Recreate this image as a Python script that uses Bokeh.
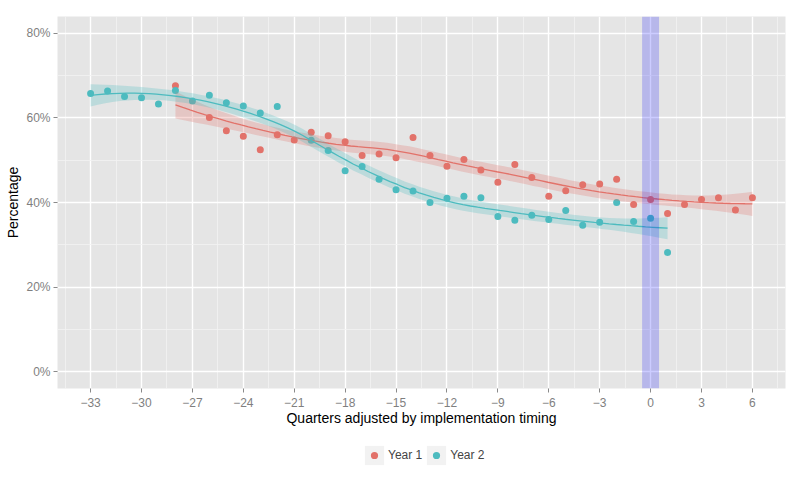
import numpy as np
from bokeh.plotting import figure
from bokeh.layouts import column
from bokeh.models import (Range1d, FixedTicker, Legend, LegendItem, BoxAnnotation)
from bokeh.embed import file_html
from bokeh.resources import INLINE

# ---------------- data ----------------
quarters_year1 = [-28, -26, -25, -24, -23, -22, -21, -20, -19, -18, -17, -16, -15,
                  -14, -13, -12, -11, -10, -9, -8, -7, -6, -5, -4, -3, -2, -1,
                  0, 1, 2, 3, 4, 5, 6]
pct_year1 = [67.6, 60.1, 57.0, 55.7, 52.5, 56.0, 54.8, 56.6, 55.8, 54.4, 51.1, 51.5, 50.6,
             55.4, 51.1, 48.6, 50.2, 47.7, 44.8, 49.0, 45.9, 41.5, 42.8, 44.2, 44.4, 45.5, 39.5,
             40.7, 37.4, 39.5, 40.7, 41.1, 38.2, 41.1]

quarters_year2 = [-33, -32, -31, -30, -29, -28, -27, -26, -25, -24, -23, -22,
                  -20, -19, -18, -17, -16, -15, -14, -13, -12, -11, -10, -9, -8,
                  -7, -6, -5, -4, -3, -2, -1, 0, 1]
pct_year2 = [65.8, 66.4, 65.1, 64.8, 63.3, 66.5, 64.0, 65.4, 63.6, 62.8, 61.2, 62.7,
             54.7, 52.3, 47.5, 48.5, 45.5, 43.0, 42.7, 40.0, 41.0, 41.5, 41.1, 36.7, 35.8,
             37.0, 36.0, 38.1, 34.6, 35.3, 40.0, 35.5, 36.3, 28.2]

series_labels = ["Year 1", "Year 2"]
x_ticks = [-33, -30, -27, -24, -21, -18, -15, -12, -9, -6, -3, 0, 3, 6]
x_tick_labels = ["\u221233", "\u221230", "\u221227", "\u221224", "\u221221", "\u221218",
                 "\u221215", "\u221212", "\u22129", "\u22126", "\u22123", "0", "3", "6"]
y_ticks = [0, 20, 40, 60, 80]
y_tick_labels = ["0%", "20%", "40%", "60%", "80%"]
implementation_quarter = 0

RED = "#E2726A"
CYAN = "#4DBBBF"
KEY_BG = "#F2F2F2"
FONT = "Liberation Sans"


# ---------------- loess smoother (as geom_smooth does) ----------------
def loess(x, y, span=0.75, n_out=80):
    x = np.asarray(x, float)
    y = np.asarray(y, float)
    n = len(x)
    q = int(np.floor(n * span))

    def op_row(x0):
        d = np.abs(x - x0)
        h = np.sort(d)[q - 1]
        w = np.clip(1 - (d / h) ** 3, 0, None) ** 3
        X = np.column_stack([np.ones(n), x - x0, (x - x0) ** 2])
        XtW = X.T * w
        return np.linalg.solve(XtW @ X, XtW)[0]

    L = np.array([op_row(v) for v in x])
    res = y - L @ y
    IL = np.eye(n) - L
    M = IL.T @ IL
    d1 = np.trace(M)
    d2 = np.trace(M @ M)
    sigma = np.sqrt(np.sum(res ** 2) / d1)
    df = d1 ** 2 / d2
    z = 1.959964
    t = z + (z ** 3 + z) / (4 * df) + (5 * z ** 5 + 16 * z ** 3 + 3 * z) / (96 * df ** 2)
    xs = np.linspace(x.min(), x.max(), n_out)
    rows = np.array([op_row(v) for v in xs])
    fit = rows @ y
    se = sigma * np.sqrt(np.sum(rows ** 2, axis=1))
    return xs, fit, fit - t * se, fit + t * se


p = figure(width=790, height=437, output_backend="svg", toolbar_location=None,
           x_range=Range1d(-34.95, 7.95), y_range=Range1d(-4, 84),
           min_border_left=57, min_border_right=5, min_border_top=16, min_border_bottom=49)

p.background_fill_color = "#E5E5E5"
p.border_fill_color = "white"
p.outline_line_color = None

# grid
for g in (p.xgrid, p.ygrid):
    g.grid_line_color = "white"
    g.grid_line_width = 1.4
    g.minor_grid_line_color = KEY_BG
    g.minor_grid_line_width = 0.8

x_minor = [t + 1.5 for t in [x_ticks[0] - 3] + x_ticks]
y_minor = [t + 10 for t in y_ticks]
p.xaxis.ticker = FixedTicker(ticks=x_ticks, minor_ticks=x_minor)
p.yaxis.ticker = FixedTicker(ticks=y_ticks, minor_ticks=y_minor)
p.xgrid.ticker = p.xaxis.ticker
p.ygrid.ticker = p.yaxis.ticker
p.xaxis.major_label_overrides = dict(zip(x_ticks, x_tick_labels))
p.yaxis.major_label_overrides = dict(zip(y_ticks, y_tick_labels))

for ax in (p.xaxis, p.yaxis):
    ax.axis_line_color = None
    ax.major_tick_line_color = "#8A8A8A"
    ax.major_tick_in = 0
    ax.major_tick_out = 4
    ax.minor_tick_line_color = None
    ax.major_label_text_color = "#7F7F7F"
    ax.major_label_text_font = FONT
    ax.major_label_text_font_size = "12px"
    ax.axis_label_text_font = FONT
    ax.axis_label_text_font_size = "14px"
    ax.axis_label_text_font_style = "normal"
    ax.axis_label_text_color = "black"

p.xaxis.axis_label = "Quarters adjusted by implementation timing"
p.yaxis.axis_label = "Percentage"
p.xaxis.major_label_standoff = 5
p.xaxis.axis_label_standoff = 0
p.yaxis.major_label_standoff = 3
p.yaxis.axis_label_standoff = 2

# points
p.scatter(quarters_year1, pct_year1, size=7, fill_color=RED, line_color=None)
p.scatter(quarters_year2, pct_year2, size=7, fill_color=CYAN, line_color=None)

# smoothers
for qx, py, col in ((quarters_year1, pct_year1, RED), (quarters_year2, pct_year2, CYAN)):
    xs, fit, lo, hi = loess(qx, py)
    p.varea(x=xs, y1=lo, y2=hi, fill_color=col, fill_alpha=0.27)
    p.line(xs, fit, line_color=col, line_width=1.3)

# implementation band
p.add_layout(BoxAnnotation(left=implementation_quarter - 0.5, right=implementation_quarter + 0.5,
                           fill_color="blue", fill_alpha=0.2, line_color=None))

# ---------------- legend strip under the chart ----------------
# (its proxy renderers hold the real data, which lies outside this strip's ranges)
leg = figure(width=790, height=55, output_backend="svg", toolbar_location=None,
             x_range=Range1d(0, 1), y_range=Range1d(0, 1),
             x_axis_type=None, y_axis_type=None,
             min_border_left=57, min_border_right=5, min_border_top=0, min_border_bottom=0)
leg.outline_line_color = None
leg.background_fill_color = "white"
leg.border_fill_color = "white"
leg.grid.visible = False

key_box = leg.quad(left=quarters_year1, right=quarters_year1, top=pct_year1, bottom=pct_year1,
                   fill_color=KEY_BG, line_color=None)
key_dot1 = leg.scatter(quarters_year1, pct_year1, fill_color=RED, line_color=KEY_BG, line_width=2.4)
key_dot2 = leg.scatter(quarters_year2, pct_year2, fill_color=CYAN, line_color=KEY_BG, line_width=2.4)
legend = Legend(items=[LegendItem(label=series_labels[0], renderers=[key_box, key_dot1]),
                       LegendItem(label=series_labels[1], renderers=[key_box, key_dot2])],
                orientation="horizontal", location=(305, 25),
                glyph_width=24, glyph_height=24, label_standoff=2, spacing=2,
                padding=0, margin=0,
                label_text_font=FONT, label_text_font_size="12px",
                border_line_color=None, background_fill_alpha=0)
leg.add_layout(legend)

open("out.html", "w").write(file_html(column(p, leg), INLINE))
